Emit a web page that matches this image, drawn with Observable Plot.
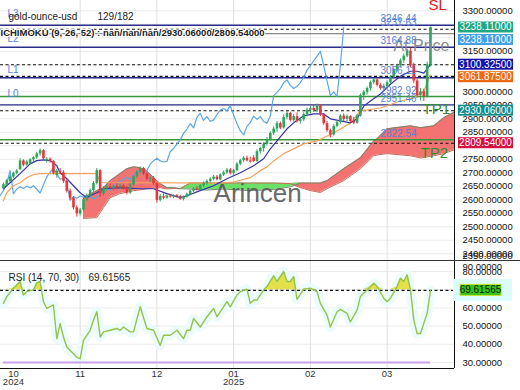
<!DOCTYPE html>
<html><head><meta charset="utf-8">
<script src="https://cdn.jsdelivr.net/npm/d3@7"></script>
<script src="https://cdn.jsdelivr.net/npm/@observablehq/plot@0.6"></script>
<style>
body{margin:0;background:#fff;font-family:"Liberation Sans",Arial,sans-serif;}
#wrap{width:520px;height:390px;position:relative;overflow:hidden;background:#fff;}
#wrap svg{display:block;}
</style></head><body><div id="wrap"></div>
<script>
// ---------- candle data (bar index 0..128) ----------
const opens = [2642,2655,2668,2684,2698,2712,2744,2728,2734,2748,2756,2770,2782,2746,2750,2742,2690,2706,2700,2668,2632,2606,2570,2548,2562,2600,2615,2634,2660,2708,2622,2640,2648,2642,2650,2644,2652,2640,2625,2655,2685,2702,2716,2696,2676,2680,2660,2598,2612,2606,2614,2610,2615,2612,2602,2610,2620,2632,2640,2636,2652,2660,2668,2676,2684,2674,2692,2700,2710,2698,2708,2732,2745,2754,2744,2755,2742,2778,2790,2806,2822,2846,2862,2882,2866,2905,2920,2894,2908,2890,2896,2916,2932,2938,2930,2948,2914,2882,2856,2840,2872,2886,2910,2898,2908,2890,2884,2910,2986,2998,3012,3034,3044,3024,3012,3020,3034,3054,3080,3096,3115,3132,3150,3096,3040,2986,3000,2982,3100];
const highs = [2662,2676,2690,2702,2712,2752,2748,2745,2752,2760,2776,2788,2786,2756,2755,2745,2712,2716,2708,2674,2640,2612,2578,2568,2606,2622,2640,2668,2716,2712,2648,2656,2658,2654,2660,2658,2656,2650,2660,2690,2708,2722,2720,2700,2685,2686,2664,2620,2622,2618,2620,2618,2620,2617,2614,2625,2636,2645,2650,2656,2666,2674,2682,2690,2690,2696,2706,2716,2716,2712,2738,2750,2760,2762,2758,2764,2785,2795,2812,2830,2852,2870,2890,2888,2915,2928,2924,2916,2922,2902,2922,2940,2946,2950,2955,2952,2918,2890,2862,2878,2892,2916,2918,2915,2912,2905,2915,2992,3005,3018,3040,3050,3048,3030,3028,3040,3060,3088,3102,3122,3140,3158,3162,3106,3046,3012,3010,3110,3240];
const lows = [2636,2650,2664,2678,2692,2708,2722,2724,2730,2740,2750,2762,2748,2736,2736,2692,2680,2694,2660,2625,2598,2562,2536,2540,2556,2594,2610,2628,2655,2608,2615,2632,2636,2632,2640,2638,2636,2618,2620,2650,2680,2696,2690,2670,2664,2654,2588,2592,2600,2602,2606,2604,2607,2598,2596,2606,2615,2626,2632,2632,2646,2654,2662,2670,2670,2670,2686,2694,2692,2690,2704,2726,2738,2740,2736,2738,2738,2770,2776,2800,2815,2838,2850,2860,2862,2896,2888,2888,2884,2880,2890,2908,2918,2924,2922,2908,2876,2850,2829,2836,2866,2880,2890,2890,2884,2878,2880,2906,2968,2988,3002,3026,3018,3006,3004,3014,3028,3048,3072,3088,3106,3126,3088,3030,2976,2966,2964,2976,3092];
const closes = [2656,2670,2684,2698,2706,2744,2728,2740,2748,2756,2770,2782,2752,2750,2742,2698,2706,2700,2668,2632,2606,2570,2548,2562,2600,2615,2634,2660,2708,2622,2640,2648,2642,2650,2644,2652,2640,2625,2655,2685,2702,2716,2696,2676,2680,2660,2598,2612,2606,2614,2610,2615,2612,2602,2610,2620,2632,2640,2636,2652,2660,2668,2676,2684,2674,2692,2700,2710,2698,2708,2732,2745,2754,2744,2740,2742,2778,2790,2806,2822,2846,2862,2882,2866,2905,2920,2894,2908,2890,2896,2916,2932,2938,2930,2948,2914,2882,2856,2840,2872,2886,2910,2898,2908,2890,2884,2910,2986,2998,3012,3034,3044,3024,3012,3020,3034,3054,3080,3096,3115,3132,3150,3096,3040,2986,3000,2982,3100,3238.11];

// ---------- Ichimoku lines ----------
const tenkanBar = [0,2,5,8,10,12,14,16,17,19,21,23,25,26,28,30,35,41,45,49,53,55,59,63,67,71,75,78,80,82,85,87,90,93,96,98,101,104,106,108,110,113,116,119,122,124,126,128];
const tenkanVal = [2641,2663,2697,2733,2745,2748,2745,2726,2700,2678,2652,2626,2608,2615,2626,2641,2645,2641,2641,2623,2608,2615,2634,2652,2678,2700,2726,2752,2789,2818,2863,2885,2911,2918,2918,2900,2892,2885,2900,2947,2966,2992,3028,3058,3076,3076,3069,3100.325];
const kijunBar = [0,1,3,5,7,9,11,28,29,64,69,74,77,79,81,84,90,94,99,104,107,113,119,123,126,128];
const kijunVal = [2597,2626,2652,2663,2682,2693,2697,2697,2664,2662,2666,2682,2708,2722,2744,2771,2807,2818,2848,2884,2929,2940,2966,2977,3003,3061.875];
const spanBar = [24,28,30,32,35,37,39,41,43,45,47,49,51,53,56,61,66,74,81,86,89,92,95,97,102,107,111,112,115,122,125,129,132,136];
const spanA = [2531,2534,2571,2608,2623,2628,2634,2637,2641,2643,2645,2640,2642,2641,2662,2662,2662,2662,2662,2660,2645,2634,2627,2641,2671,2715,2763,2766,2771,2763,2755,2763,2771,2789];
const spanB = [2608,2634,2645,2671,2697,2715,2722,2719,2708,2682,2660,2645,2645,2641,2640,2636,2640,2634,2638,2648,2662,2662,2662,2671,2715,2756,2818,2826,2863,2874,2867,2874,2904,2930];
const chikouShift = 26;

// ---------- horizontal levels ----------
const atLevels = [3246.44, 3164.88, 3052, 2951.46];
const zeroLevels = [2982.92, 2822.54];
const indLevels = [3231.63, 3100.325, 3057, 2930.06, 2809.54];
const greyLevels = [3215];
const levelLabelText = ["3246.44","3231.63","3164.88","3056.11","2982.92","2951.46","2822.54"];
const levelLabelPrice = [3246.44,3231.63,3164.88,3056.11,2982.92,2951.46,2822.54];
const levelLabelBar = 113;
const lNames = ["L3","L2","L1","L0"];
const lPrice = [3288,3196,3083,2992];

// ---------- badges ----------
const badgeVal = [3238.11,3238.11,3100.325,3061.875,2930.06,2809.54];
const badgeText = ["3238.11000","3238.11000","3100.32500","3061.87500","2930.06000","2809.54000"];
const badgeFill = ["#22a884","#42a0e6","#1414a8","#ee6a10","#168c8c","#d4123f"];

// ---------- RSI ----------
const rsiBar = [0,1,3,4,5,6,7,9,10,11,12,13,15,16,17,18,19,21,22,23,24,26,27,28,29,30,32,34,35,36,38,39,41,43,45,47,48,50,52,54,55,56,57,59,61,63,64,67,68,70,71,73,74,75,76,78,79,81,82,84,85,86,87,88,90,92,94,95,97,98,100,101,103,104,106,107,108,110,111,112,114,115,116,118,119,120,121,122,123,124,125,127,128];
const rsiVal = [62.5,66.2,70.8,72.6,74.5,67.1,68.9,69.9,73.6,74.5,63.4,59.7,61.6,43.1,51.4,44.0,38.5,34.8,32.9,32.0,42.2,47.7,53.3,57.9,44.0,46.8,47.7,48.7,47.7,49.5,46.8,46.8,60.6,48.7,47.7,39.4,45.0,45.0,47.7,43.1,47.7,47.7,54.2,49.5,55.1,59.7,55.1,63.4,60.6,67.1,68.9,70.3,62.5,64.3,64.3,69.9,71.7,77.6,74.5,80.0,74.5,74.5,77.2,64.7,70.3,70.8,68.9,62.5,56.0,49.5,57.9,59.2,57.0,52.3,58.8,66.2,68.0,71.7,73.6,71.7,65.3,63.4,65.3,71.7,76.3,74.5,78.2,69.9,53.3,45.9,45.9,57.0,69.61565];
const rsiLast = 69.61565;
const rsiUpper = 70, rsiLower = 30;

// ---------- axes ----------
const priceGrid = [2400,2450,2500,2550,2600,2650,2700,2750,2800,2850,2900,2950,3000,3050,3100,3150,3200,3250,3300];
// labels that are not hidden behind the price badges
const priceTickLabels = [2400,2450,2500,2550,2600,2650,2700,2750,2850,2900,2950,3000,3150,3300];
const rsiGrid = [30,40,50,60,70,80];
const rsiTickLabels = [30,40,50,60,80];
const monthBar = [3,23,46,69,92,115];
const monthText = ["10","11","12","01","02","03"];
const yearBar = [3,69];
const yearText = ["2024","2025"];

const xDomain = [-0.87, 135.2];
const priceDomain = [2375.2, 3338.1];
const rsiDomain = [26.7, 86.04];

// ---------- build tables ----------
const bars = closes.map((c,i)=>({i, o:opens[i], h:highs[i], l:lows[i], c, up: c>=opens[i]}));
const upBars = bars.filter(d=>d.up), dnBars = bars.filter(d=>!d.up);
const chikou = closes.map((c,i)=>({x:i-chikouShift, v:c}));
const tenkan = tenkanBar.map((b,k)=>({x:b, v:tenkanVal[k]}));
const kijun = kijunBar.map((b,k)=>({x:b, v:kijunVal[k]}));
const cloud = spanBar.map((b,k)=>({x:b, a:spanA[k], b:spanB[k]}));
const lvlLabels = levelLabelText.map((t,k)=>({t, p:levelLabelPrice[k]}));
const lLabels = lNames.map((t,k)=>({t, p:lPrice[k]}));
const rsi = rsiBar.map((b,k)=>({x:b, v:rsiVal[k]}));

const FONT = '"Liberation Sans", Arial, sans-serif';
const GREEN = "#2ea45e", RED = "#e8353b";

const main = Plot.plot({
  width: 520, height: 260,
  marginLeft: 0, marginRight: 66, marginTop: 0, marginBottom: 0,
  style: {fontFamily: FONT, fontSize: "9.5px", color: "#111", background: "white", overflow: "hidden"},
  x: {domain: xDomain, axis: null},
  y: {domain: priceDomain, axis: "right", ticks: priceTickLabels, tickFormat: d=>d.toFixed(5), tickSize: 0, tickPadding: 8, label: null},
  marks: [
    Plot.ruleY(priceGrid, {stroke: "#ebebeb"}),
    Plot.ruleX(monthBar.slice(1), {stroke: "#e0e0e0"}),
    // cloud
    Plot.areaY(cloud, {x: "x", y1: "a", y2: d=>Math.max(d.a,d.b), fill: "#f26666", fillOpacity: 0.92, clip: true}),
    Plot.areaY(cloud, {x: "x", y1: "b", y2: d=>Math.max(d.a,d.b), fill: "#62dd62", fillOpacity: 0.95, clip: true}),
    Plot.line(cloud, {x: "x", y: "a", stroke: "#c86a5a", strokeWidth: 1, clip: true}),
    Plot.line(cloud, {x: "x", y: "b", stroke: "#6f8a6a", strokeWidth: 1, clip: true}),
    // levels
    Plot.ruleY(greyLevels, {stroke: "#6a6a6a", strokeWidth: 1}),
    Plot.ruleY(atLevels, {stroke: "#2d2d8c", strokeWidth: 1.4}),
    Plot.ruleY(zeroLevels, {stroke: "#3a963a", strokeWidth: 1.5}),
    Plot.ruleY(indLevels, {stroke: "#111", strokeWidth: 1.1, strokeDasharray: "3,2.5"}),
    // ichimoku lines
    Plot.line(chikou, {x: "x", y: "v", stroke: "#5ba8e0", strokeWidth: 1.2, clip: true}),
    Plot.line(kijun, {x: "x", y: "v", stroke: "#f4a35e", strokeWidth: 1.2, clip: true}),
    Plot.line(tenkan, {x: "x", y: "v", stroke: "#3434a2", strokeWidth: 1.2, clip: true}),
    // candles
    Plot.ruleX(upBars, {x: "i", y1: "l", y2: "h", stroke: GREEN, strokeWidth: 1}),
    Plot.ruleX(dnBars, {x: "i", y1: "l", y2: "h", stroke: RED, strokeWidth: 1}),
    Plot.ruleX(upBars, {x: "i", y1: "o", y2: "c", stroke: GREEN, strokeWidth: 2.6}),
    Plot.ruleX(dnBars, {x: "i", y1: "o", y2: "c", stroke: RED, strokeWidth: 2.6}),
    // annotations
    Plot.text(["Arincen"], {x: 63, y: 2623, text: d=>d, textAnchor: "start", fontSize: 26, fill: "#555", fillOpacity: 0.9}),
    Plot.text(["At Price"], {x: 116.9, y: 3171, text: d=>d, textAnchor: "start", fontSize: 16, fill: "#8a8a8a"}),
    Plot.text(lvlLabels, {x: levelLabelBar, y: "p", text: "t", dy: -6, textAnchor: "start", fontSize: 10, fill: "#5b7fd2"}),
    Plot.text(lLabels, {x: 1.2, y: "p", text: "t", textAnchor: "start", fontSize: 10, fill: "#5b7fd2"}),
    Plot.text(["TP1"], {x: 125.6, y: 2934, text: d=>d, textAnchor: "start", fontSize: 15, fill: "#2f8f2f"}),
    Plot.text(["TP2"], {x: 125, y: 2773, text: d=>d, textAnchor: "start", fontSize: 15, fill: "#2f8f2f"}),
    Plot.text(["SL"], {x: 127.4, y: 3320, text: d=>d, textAnchor: "start", fontSize: 15, fill: "#e02020"}),
    Plot.text(["gold-ounce-usd"], {frameAnchor: "top-left", dx: 8, dy: 12.7, text: d=>d, textAnchor: "start", fontSize: 10, fill: "#222"}),
    Plot.text(["129/182"], {frameAnchor: "top-left", dx: 97, dy: 12.7, text: d=>d, textAnchor: "start", fontSize: 10, fill: "#222"}),
    Plot.text(["ICHIMOKU (9, 26, 52) : nan/nan/nan/2930.06000/2809.54000"], {frameAnchor: "top-left", dx: 0, dy: 28.5, text: d=>d, textAnchor: "start", fontSize: 9.5, fontWeight: "bold", fill: "#222", stroke: "white", strokeWidth: 2}),
    Plot.text(["2350.00000"], {frameAnchor: "bottom-right", dx: 8, dy: -2, text: d=>d, textAnchor: "start", fontSize: 9.5, fill: "#111"}),
    Plot.ruleX([xDomain[1]], {stroke: "#111", strokeWidth: 1})
  ]
});

const rsiPlot = Plot.plot({
  width: 520, height: 130,
  marginLeft: 0, marginRight: 66, marginTop: 0, marginBottom: 22,
  style: {fontFamily: FONT, fontSize: "9.5px", color: "#111", background: "white", overflow: "hidden"},
  x: {domain: xDomain, axis: null},
  y: {domain: rsiDomain, axis: "right", ticks: rsiTickLabels, tickFormat: d=>d.toFixed(5), tickSize: 0, tickPadding: 8, label: null},
  marks: [
    Plot.ruleY(rsiGrid, {stroke: "#ebebeb"}),
    Plot.ruleX(monthBar.slice(1), {stroke: "#e0e0e0"}),
    Plot.line(rsi, {x: "x", y: "v", stroke: "#ecfbfb", strokeWidth: 10, clip: true}),
    Plot.areaY(rsi, {x: "x", y1: rsiUpper, y2: d=>Math.max(d.v, rsiUpper), fill: "#e4e04a"}),
    Plot.ruleY([rsiLower], {x1: rsiBar[0], x2: rsiBar[rsiBar.length-1], stroke: "#c9a3e6", strokeWidth: 2}),
    Plot.ruleY([rsiLast], {stroke: "#111", strokeWidth: 1.1, strokeDasharray: "3,2.5"}),
    Plot.line(rsi, {x: "x", y: "v", stroke: "#93c449", strokeWidth: 1.4}),
    Plot.ruleX([xDomain[1]], {stroke: "#111"}),
    Plot.ruleY([rsiDomain[0]], {stroke: "#111"}),
    Plot.text(["RSI (14, 70, 30)"], {frameAnchor: "top-left", dx: 8, dy: 13.5, text: d=>d, textAnchor: "start", fontSize: 10, fill: "#222"}),
    Plot.text([rsiLast.toFixed(5)], {frameAnchor: "top-left", dx: 88, dy: 13.5, text: d=>d, textAnchor: "start", fontSize: 10, fill: "#222"}),
    Plot.text(["90.00000"], {frameAnchor: "top-right", dx: 8, dy: 2.5, text: d=>d, textAnchor: "start", fontSize: 9.5, fill: "#111"}),
    Plot.text(monthText, {x: (d,k)=>monthBar[k], frameAnchor: "bottom", dy: 8, text: d=>d, fontSize: 9.5, fill: "#333"}),
    Plot.text(yearText, {x: (d,k)=>yearBar[k], frameAnchor: "bottom", dy: 16.5, text: d=>d, fontSize: 9.5, fill: "#333"})
  ]
});

const wrap = document.getElementById("wrap");
wrap.appendChild(main);
wrap.appendChild(rsiPlot);

function scaleFn(chart, name){
  const s = chart.scale(name);
  if (s && typeof s.apply === "function") return v => s.apply(v);
  return d3.scaleLinear(s.domain, s.range);
}

// price badges
const ysMain = scaleFn(main, "y");
const gM = d3.select(main).append("g").attr("font-family", FONT).attr("font-size", 10);
let prev = -Infinity;
badgeVal.forEach((v,k)=>{
  let y = Math.max(ysMain(v), prev + 12.5);
  prev = y;
  gM.append("rect").attr("x", 458).attr("y", y-5.5).attr("width", 55).attr("height", 11).attr("fill", badgeFill[k]);
  gM.append("text").attr("x", 485.5).attr("y", y).attr("dy", "0.35em").attr("text-anchor", "middle").attr("fill", "white").text(badgeText[k]);
});

// RSI badge
const ysR = scaleFn(rsiPlot, "y");
const gR = d3.select(rsiPlot).append("g").attr("font-family", FONT).attr("font-size", 10);
const ry = ysR(rsiLast);
gR.append("rect").attr("x", 453).attr("y", ry-11).attr("width", 59).attr("height", 22).attr("fill", "#dcfbfb");
gR.append("rect").attr("x", 460).attr("y", ry-5.5).attr("width", 41).attr("height", 11).attr("fill", "#3cc21c").attr("stroke", "#c4e030");
gR.append("text").attr("x", 480.5).attr("y", ry).attr("dy", "0.35em").attr("text-anchor", "middle").attr("fill", "#0a250a").text(rsiLast.toFixed(5));
// panel separator
d3.select(rsiPlot).append("line").attr("x1", 0).attr("x2", 520).attr("y1", 0.5).attr("y2", 0.5).attr("stroke", "#333");
</script></body></html>
